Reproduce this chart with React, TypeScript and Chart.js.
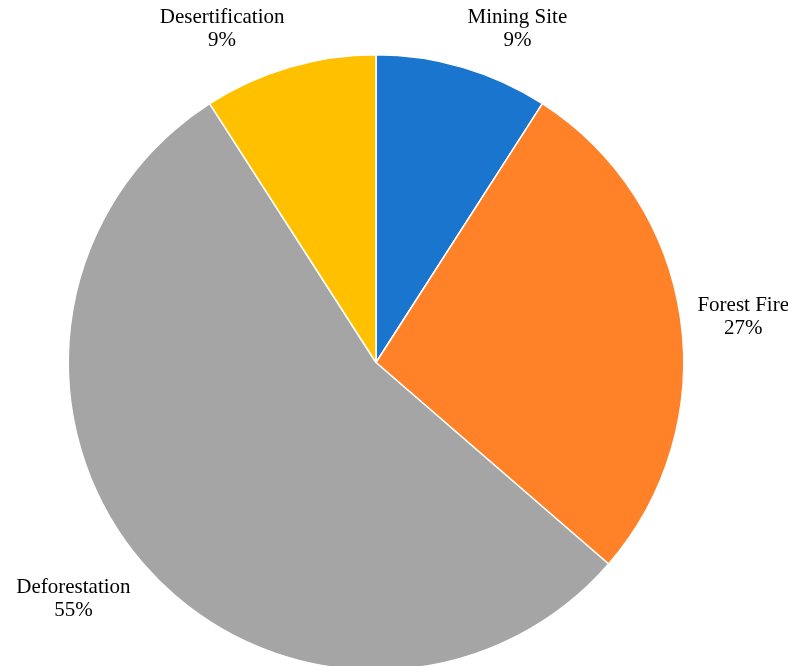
import React, { useEffect, useRef } from "react";
import { Chart, registerables } from "chart.js";

Chart.register(...registerables);

const categories: string[] = ["Mining Site", "Forest Fire", "Deforestation", "Desertification"];
const counts: number[] = [1, 3, 6, 1];
const sliceColors: string[] = ["#1A75CE", "#FF8128", "#A5A5A5", "#FFC000"];

const FONT = '21px "Liberation Serif", "Times New Roman", serif';
const LINE_H = 23;
const LABEL_GAP = 17;

function axisShare(v: number): number {
  const a = Math.abs(v);
  const t = Math.max(0, Math.min(1, (a - 0.2) / 0.08));
  return Math.sign(v) * t;
}

const outsideLabels = {
  id: "outsideLabels",
  afterDatasetsDraw(chart: any) {
    const ctx = chart.ctx as CanvasRenderingContext2D;
    const meta = chart.getDatasetMeta(0);
    const data = chart.data.datasets[0].data as number[];
    const total = data.reduce((s, v) => s + v, 0);
    ctx.save();
    ctx.font = FONT;
    ctx.fillStyle = "#000000";
    ctx.textAlign = "center";
    ctx.textBaseline = "alphabetic";
    meta.data.forEach((arc: any, i: number) => {
      const p = arc.getProps(["x", "y", "startAngle", "endAngle", "outerRadius"], true);
      const mid = (p.startAngle + p.endAngle) / 2;
      const ux = Math.cos(mid);
      const uy = Math.sin(mid);
      const d = p.outerRadius + LABEL_GAP;
      const px = p.x + ux * d;
      const py = p.y + uy * d;
      const line1 = String(chart.data.labels[i]);
      const line2 = Math.round((data[i] / total) * 100) + "%";
      const w = Math.max(ctx.measureText(line1).width, ctx.measureText(line2).width);
      const h = LINE_H * 2;
      const cx = px + (w / 2) * axisShare(ux);
      const cy = py + (h / 2) * axisShare(uy);
      ctx.fillText(line1, cx, cy - 5);
      ctx.fillText(line2, cx, cy - 5 + LINE_H);
    });
    ctx.restore();
  },
};

export default function App() {
  const canvasRef = useRef<HTMLCanvasElement | null>(null);

  useEffect(() => {
    document.documentElement.style.overflow = "hidden";
    document.body.style.overflow = "hidden";
    document.body.style.margin = "0";
    const canvas = canvasRef.current;
    if (!canvas) return;
    const chart = new Chart(canvas, {
      type: "pie",
      data: {
        labels: categories,
        datasets: [
          {
            data: counts,
            backgroundColor: sliceColors,
            borderColor: "#FFFFFF",
            borderWidth: 1.5,
          },
        ],
      },
      options: {
        animation: false,
        responsive: true,
        maintainAspectRatio: false,
        layout: { padding: { left: 67.5, right: 103.5, top: 54, bottom: 9 } },
        plugins: {
          legend: { display: false },
          tooltip: { enabled: false },
        },
      },
      plugins: [outsideLabels],
    });
    return () => chart.destroy();
  }, []);

  return (
    <div style={{ position: "fixed", left: 0, top: 0, width: 788, height: 680, background: "#FFFFFF" }}>
      <canvas ref={canvasRef} />
    </div>
  );
}
